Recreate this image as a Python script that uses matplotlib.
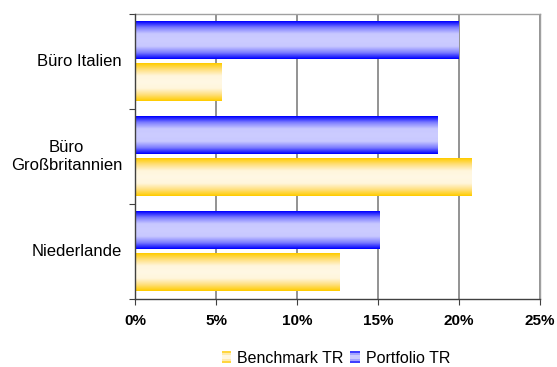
import matplotlib
matplotlib.use("Agg")
import matplotlib.pyplot as plt
import numpy as np
from matplotlib.patches import Rectangle
from matplotlib.legend_handler import HandlerBase
from matplotlib.colors import LinearSegmentedColormap

plt.rcParams['font.family'] = ['Liberation Sans', 'DejaVu Sans']

# data (top to bottom)
categories = ["Büro Italien", "Büro\nGroßbritannien", "Niederlande"]
portfolio = [20.0, 18.7, 15.1]
benchmark = [5.35, 20.8, 12.6]
xticks = [0, 5, 10, 15, 20, 25]

blue_cmap = LinearSegmentedColormap.from_list("b", ["#0000ff", "#8080ff", "#c8c8ff", "#ccccff", "#c8c8ff", "#8080ff", "#0000ff"])
yel_cmap = LinearSegmentedColormap.from_list("y", ["#ffcc00", "#ffe080", "#fff6dc", "#fff8e4", "#fff6dc", "#ffe080", "#ffcc00"])
grad = np.linspace(0, 1, 64).reshape(-1, 1)

fig = plt.figure(figsize=(5.57, 3.67), dpi=100)
ax = fig.add_axes([0.2424, 0.1853, 0.7271, 0.7766])

n = len(categories)
y = np.arange(n)[::-1]
h = 0.39
off = 0.22
bars_p = ax.barh(y + off, portfolio, height=h, color="none", edgecolor="none")
bars_b = ax.barh(y - off, benchmark, height=h, color="none", edgecolor="none")

def fill_gradient(bars, cmap):
    for b in bars:
        x0, y0 = b.get_x(), b.get_y()
        ax.imshow(grad, cmap=cmap, aspect="auto", extent=(x0, x0 + b.get_width(), y0, y0 + b.get_height()),
                  interpolation="bilinear", zorder=3)

fill_gradient(bars_p, blue_cmap)
fill_gradient(bars_b, yel_cmap)

ax.set_xlim(0, 25)
ax.set_ylim(-0.5, n - 0.5)
ax.set_xticks(xticks)
ax.set_xticklabels([f"{v}%" for v in xticks], fontweight="bold", fontsize=11)
ax.set_yticks(np.arange(n + 1) - 0.5)
ax.set_yticklabels([])
for yi, lab in zip(y, categories):
    ax.annotate(lab, xy=(0, yi), xycoords=("axes fraction", "data"), xytext=(-13, 0),
                textcoords="offset pixels", ha="right", va="center",
                fontsize=12, multialignment="center")
ax.grid(axis="x", color="#808080", linewidth=1.2, zorder=1)
ax.set_axisbelow(True)
for s in ["top", "right"]:
    ax.spines[s].set_color("#a0a0a0")
    ax.spines[s].set_linewidth(1.0)
for s in ["left", "bottom"]:
    ax.spines[s].set_color("#404040")
    ax.spines[s].set_linewidth(1.0)
    ax.spines[s].set_zorder(5)
ax.tick_params(axis="both", direction="out", length=4, color="#404040", pad=7)
ax.tick_params(axis="y", pad=2)


class GradHandler(HandlerBase):
    def __init__(self, cmap):
        super().__init__()
        self.cmap = cmap

    def create_artists(self, legend, orig_handle, xdescent, ydescent, width, height, fontsize, trans):
        arts = []
        k = 6
        for i in range(k):
            c = self.cmap((i + 0.5) / k)
            arts.append(Rectangle((xdescent, ydescent + height * i / k), width, height / k + 0.3,
                                  facecolor=c, edgecolor="none", transform=trans))
        return arts


hb = Rectangle((0, 0), 1, 1)
hp = Rectangle((0, 0), 1, 1)
fig.legend([hb, hp], ["Benchmark TR", "Portfolio TR"], loc="center", bbox_to_anchor=(0.603, 0.024),
           ncol=2, frameon=False, fontsize=11.5, handlelength=0.6, handleheight=0.7, handletextpad=0.35,
           columnspacing=0.45, borderpad=0, handler_map={hb: GradHandler(yel_cmap), hp: GradHandler(blue_cmap)})

fig.savefig("out.png", dpi=100)
